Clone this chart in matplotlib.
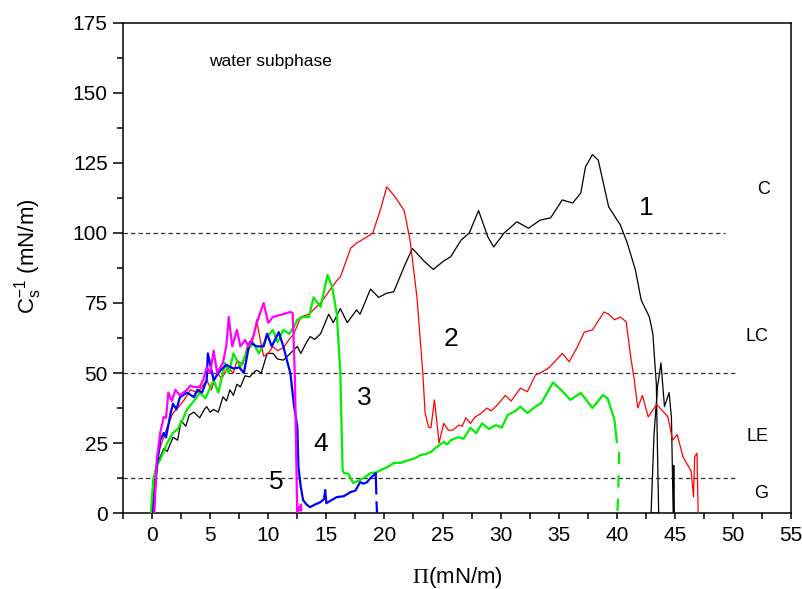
import matplotlib
matplotlib.use("Agg")
import matplotlib.pyplot as plt
from matplotlib.ticker import MultipleLocator

plt.rcParams['font.family'] = ['Liberation Sans', 'DejaVu Sans']
plt.rcParams['mathtext.fontset'] = 'custom'
plt.rcParams['mathtext.rm'] = 'Liberation Serif'
plt.rcParams['mathtext.sf'] = 'Liberation Sans'
plt.rcParams['mathtext.it'] = 'Liberation Sans:italic'

# ---------------- data ----------------
c1_x = [-0.05, 0.0, 0.15, 0.35, 0.5, 0.7, 1.0, 1.3, 1.8, 2.2, 2.5, 2.9, 3.2, 3.6, 4.1, 4.5, 4.7, 5.0,
        5.3, 5.7, 6.1, 6.4, 6.7, 7.0, 7.3, 7.6, 8.0, 8.4, 8.7, 9.0, 9.4, 9.9, 10.4, 10.8, 11.3, 11.9,
        12.5, 12.8, 13.3, 13.6, 14.0, 14.5, 15.2, 15.6, 16.2, 16.8, 17.6, 17.9, 18.5, 18.8, 19.5,
        20.2, 20.8, 21.1, 21.7, 22.4, 23.4, 24.2, 25.1, 25.7, 26.6, 27.3, 28.1, 28.9, 29.4, 30.3,
        31.4, 32.4, 33.4, 34.3, 35.3, 36.2, 36.9, 37.3, 37.9, 38.4, 39.3, 40.3, 40.9, 41.6, 42.1,
        42.8, 43.1, 43.4, 43.5, 43.6, 42.95, 43.2, 43.5, 43.8, 44.1, 44.5, 44.7, 44.85, 44.9, 44.95]
c1_y = [0, 6, 3, 13, 18, 20, 23, 22, 27, 26, 33, 31, 35, 36, 34, 37, 38, 36,
        37, 36, 41.5, 40, 44, 42, 46, 45, 49, 48.6, 50, 51, 50, 57, 57, 55, 54.6, 57,
        59.5, 57, 61, 63, 62, 64, 71, 68, 73, 68, 72.5, 71, 77, 80, 77,
        78.5, 79, 82, 88, 94.5, 90, 87, 90, 91.5, 97.5, 100, 108, 98.6, 95, 100,
        104, 101.7, 104.6, 105.4, 111.8, 110.7, 114.3, 123.6, 128, 126, 109.3, 102.9, 96.4, 86.8, 76,
        70, 64, 46, 22, 0, 0, 28, 45, 53.6, 38, 43, 34, 0, 17, 0]

c2_x = [0.0, 0.1, 0.3, 0.7, 1.0, 1.3, 1.8, 2.3, 2.7, 3.3, 3.9, 4.3, 4.7, 5.1, 5.6, 6.0, 6.5, 7.0,
        7.3, 7.8, 8.2, 8.6, 9.0, 9.3, 9.6, 10.0, 10.4, 10.8, 11.3, 11.8, 12.2, 12.8, 13.5, 14.0,
        14.5, 15.3, 15.9, 16.2, 17.1, 17.6, 18.5, 19.0, 19.7, 20.2, 20.7, 21.1, 21.7, 22.2, 22.8,
        23.3, 23.5, 23.8, 24.0, 24.3, 24.5, 24.7, 25.1, 25.5, 25.9, 26.4, 26.7, 27.0, 27.4, 27.8,
        28.3, 28.8, 29.2, 29.8, 30.4, 30.9, 31.7, 32.3, 33.0, 33.4, 34.2, 35.3, 35.9, 36.6, 37.2,
        37.9, 38.9, 39.3, 39.8, 40.3, 40.8, 41.2, 41.5, 41.8, 42.2, 42.7, 43.4, 43.6, 44.1, 44.4,
        44.8, 45.2, 45.7, 46.2, 46.4, 46.6, 46.7, 46.9, 47.0]
c2_y = [0, 5, 16, 23.6, 27, 30.7, 35.7, 38, 40, 44, 43, 45, 47.5, 44, 50, 48, 52, 50,
        54.6, 53, 59.5, 60, 69, 62, 56, 57, 59.5, 58, 59, 62, 64, 70, 71, 73,
        75, 79.6, 83, 84.3, 94.6, 96.4, 98.6, 100, 109, 116.5, 114, 111.8, 108, 97.5, 77,
        50, 35.7, 30.7, 30.4, 40.4, 33, 25, 32, 29.6, 29.6, 31.4, 31, 34, 32, 34.3,
        35.5, 37.5, 36.5, 39, 42, 40, 44.6, 43.3, 49.3, 50, 52, 57, 54, 59.3, 64.6,
        65.4, 71.8, 71, 69, 70, 68.3, 55.7, 47.5, 37.5, 42, 34.3, 38.6, 38, 35.7, 34.3,
        26, 28, 20, 16.4, 15, 5.8, 20, 21.4, 0]

c3_x = [-0.1, 0.1, 0.4, 0.7, 1.0, 1.3, 1.8, 2.2, 2.6, 3.0, 3.6, 4.1, 4.6, 5.3, 5.7, 6.3, 6.6, 7.0,
        7.6, 8.2, 8.7, 9.2, 9.9, 10.4, 10.8, 11.3, 11.8, 12.2, 12.5, 13.0, 13.5, 13.9, 14.5, 15.1,
        15.5, 15.9, 16.2, 16.4, 16.5, 16.9, 17.3, 17.9, 18.4, 18.8, 19.3, 19.7, 20.3, 20.8, 21.4,
        21.8, 22.2, 22.6, 23.1, 23.5, 24.0, 24.5, 25.1, 25.4, 25.7, 26.0, 26.4, 26.8, 27.4, 27.9,
        28.4, 29.0, 29.6, 30.1, 30.6, 31.3, 31.7, 32.3, 33.0, 33.5, 34.5, 35.2, 36.0, 36.9, 37.9,
        38.8, 39.2, 39.8, 40.0]
c3_y = [0, 12, 17, 19, 22, 25, 28.6, 30, 33, 37, 40, 43, 41, 47.5, 43, 53.6, 50, 57,
        52, 58, 60.7, 57, 63, 65.4, 61, 65.4, 64, 66.4, 69, 70, 70, 77, 73.6, 85,
        80.7, 71, 50, 15.4, 14.3, 14, 10.7, 11.8, 13, 14.3, 14.5, 15.4, 16.5, 17.9, 17.9,
        18.5, 19, 19.5, 20.7, 21, 21.8, 23.6, 25.4, 24.5, 26, 26.5, 27.1, 26.5, 30.4, 28.5,
        32, 30, 31.4, 30.5, 35, 36.5, 38, 35.7, 38, 39.3, 46.6, 44, 40.4, 42.9, 37.5,
        42.1, 41, 33.2, 25.4]
c3_end_x = [40.2, 40.15, 40.1, 40.05]
c3_end_y = [21.8, 12, 5, 0]

c4_x = [0.1, 0.25, 0.4, 0.7, 1.0, 1.2, 1.6, 1.8, 2.1, 2.4, 3.0, 3.6, 3.9, 4.3, 4.7, 4.8, 5.3, 5.9,
        6.4, 7.0, 7.5, 7.9, 8.4, 9.0, 9.6, 9.9, 10.3, 10.9, 11.3, 11.6, 11.9, 12.2, 12.5, 12.6,
        12.8, 13.0, 13.3, 13.6, 14.0, 14.5, 14.8, 14.9, 15.0, 15.4, 15.9, 16.5, 17.1, 17.5, 17.9,
        18.2, 18.5, 18.8, 19.1, 19.25, 19.3]
c4_y = [0, 8, 16.4, 26, 28.6, 27, 35.7, 39, 37, 41.4, 43, 41.4, 44, 43, 47.5, 57, 47.5, 51,
        52.9, 51.6, 52, 50, 61, 59.5, 59.5, 64, 59.5, 64.6, 59.5, 54.6, 50, 39, 30.7, 16.4,
        9.3, 4.6, 3, 2.1, 3, 3.9, 5, 8.2, 3.5, 4.5, 5.7, 6, 7.5, 8, 11,
        10.5, 11, 12.5, 13.6, 14.3, 7]
c4_end_x = [19.32, 19.36]
c4_end_y = [3.8, 0]

c5_x = [0.2, 0.3, 0.4, 0.7, 1.0, 1.2, 1.4, 1.7, 2.0, 2.4, 3.0, 3.3, 3.6, 4.1, 4.4, 4.7, 5.0, 5.3,
        5.6, 6.1, 6.4, 6.6, 6.9, 7.3, 7.6, 8.0, 8.3, 8.7, 9.1, 9.6, 10.0, 10.4, 11.0, 11.6, 11.9,
        12.1, 12.3, 12.45, 12.5, 12.6, 12.7, 12.8, 12.85]
c5_y = [0, 10, 19, 28.6, 34.3, 34, 43, 40, 44, 42, 44, 45.5, 45, 45, 47.5, 52, 50, 58,
        50, 53.6, 60, 70, 59.5, 65.4, 59.5, 61.8, 59.5, 63, 69, 75, 67.9, 70, 70.7, 71.4, 71.8,
        71.4, 47.5, 10, 0, 2, 1, 3, 1]

region_levels = [100, 50, 12.5]
region_ends = [49.3, 50.4, 50.4]
region_labels = ['C', 'LC', 'LE', 'G']
region_label_x = [52.6, 52.1, 52.1, 52.4]
region_label_y = [115.4, 63, 27.3, 6.8]

curve_labels = ['1', '2', '3', '4', '5']
curve_label_x = [42.5, 25.7, 18.3, 14.5, 10.7]
curve_label_y = [109, 62, 41, 24.8, 10.9]

# ---------------- figure ----------------
fig = plt.figure(figsize=(8.03, 5.89), dpi=100)
ax = fig.add_axes([0.1532, 0.129, 0.832, 0.832])

for lvl, xe in zip(region_levels, region_ends):
    ax.plot([-2.5, xe], [lvl, lvl], color='#333333', lw=0.9, dashes=(3.5, 2.5), zorder=1)

ax.plot(c1_x, c1_y, color='black', lw=0.9, zorder=2)
ax.plot(c2_x, c2_y, color='#ff0000', lw=0.9, zorder=3)
ax.plot(c3_x, c3_y, color='#00ee00', lw=1.6, zorder=4)
ax.plot(c3_end_x, c3_end_y, color='#00ee00', lw=1.6, dashes=(5.5, 5), zorder=4)
ax.plot(c4_x, c4_y, color='#0000ff', lw=1.6, zorder=5)
ax.plot(c4_end_x, c4_end_y, color='#0000ff', lw=1.6, zorder=5)
ax.plot(c5_x, c5_y, color='#ff00ff', lw=1.6, zorder=6)

for t, x, y in zip(region_labels, region_label_x, region_label_y):
    ax.text(x, y, t, fontsize=13, ha='center', va='center')
for t, x, y in zip(curve_labels, curve_label_x, curve_label_y):
    ax.text(x, y, t, fontsize=19, ha='center', va='center')
ax.text(4.9, 159.6, 'water subphase', fontsize=12.5, ha='left', va='baseline')

ax.set_xlim(-2.5, 55)
ax.set_ylim(0, 175)
ax.xaxis.set_major_locator(MultipleLocator(5))
ax.xaxis.set_minor_locator(MultipleLocator(2.5))
ax.yaxis.set_major_locator(MultipleLocator(25))
ax.yaxis.set_minor_locator(MultipleLocator(12.5))

for s in ax.spines.values():
    s.set_linewidth(1.1)
ax.tick_params(axis='both', which='both', direction='out', top=False, right=False, width=1.1,
               labelsize=15)
ax.tick_params(axis='y', which='major', length=7, pad=4)
ax.tick_params(axis='y', which='minor', length=4.3)
ax.tick_params(axis='x', which='both', length=4.3, pad=5)

ax.set_xlabel(r'$\mathrm{\Pi}$(mN/m)', fontsize=16)
ax.xaxis.set_label_coords(0.5, -0.106)
ax.set_ylabel(r'$\mathsf{C}_{\mathsf{s}}^{\mathsf{-1}}$ (mN/m)', fontsize=16)
ax.yaxis.set_label_coords(-0.118, 0.525)

fig.savefig('out.png', dpi=100)
